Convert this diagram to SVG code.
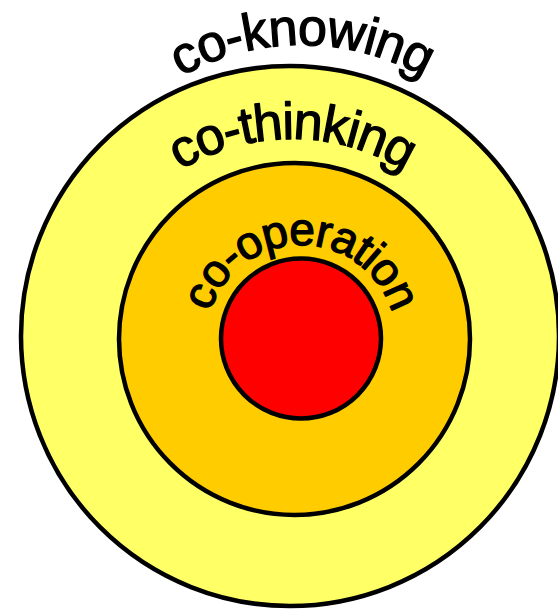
<svg xmlns="http://www.w3.org/2000/svg" width="558" height="609" viewBox="0 0 558 609">
<style>
.ring{stroke:#000;stroke-width:4.5}
.lbl{font-family:"Liberation Sans",Arial,sans-serif;fill:#000;stroke:#000;stroke-width:1.3;stroke-linejoin:round;text-anchor:middle}
</style>
<defs>
<path id="arcKnow" d="M55,292 A247,247 0 0 1 549,292"/>
<path id="arcThink" d="M77,354 A215,215 0 0 1 507,354"/>
<path id="arcOper" d="M206,340 A95,95 0 0 1 396,340"/>
</defs>
<rect width="558" height="609" fill="#fff"/>
<g id="outer">
<ellipse class="ring" cx="290" cy="336" rx="269" ry="270" fill="#FFFF66"/>
</g>
<g id="middle">
<ellipse class="ring" cx="294.5" cy="339" rx="175.5" ry="176" fill="#FFCC00"/>
</g>
<g id="inner">
<circle class="ring" cx="301" cy="338.5" r="80" fill="#FF0000"/>
</g>
<g id="label-knowing">
<text class="lbl" font-size="52" letter-spacing="-1"><textPath href="#arcKnow" startOffset="50%">co-knowing</textPath></text>
</g>
<g id="label-thinking">
<text class="lbl" font-size="52" letter-spacing="-1.5"><textPath href="#arcThink" startOffset="50%">co-thinking</textPath></text>
</g>
<g id="label-operation">
<text class="lbl" font-size="46" letter-spacing="-1.2"><textPath href="#arcOper" startOffset="50%">co-operation</textPath></text>
</g>
</svg>
